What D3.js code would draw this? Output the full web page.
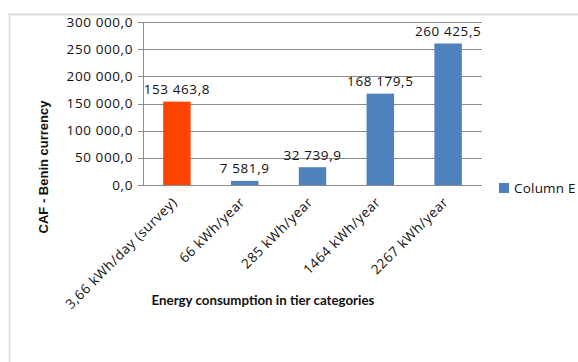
<!DOCTYPE html>
<html>
<head>
<meta charset="utf-8">
<script src="https://cdn.jsdelivr.net/npm/d3@7/dist/d3.min.js"></script>
<style>
  html, body { margin: 0; padding: 0; background: #fff; }
  svg { display: block; }
</style>
</head>
<body>
<svg id="chart" width="578" height="362"></svg>
<script>
// Cost per tier of energy consumption, in CFA francs
const categories = [
  "3,66 kWh/day (survey)",
  "66 kWh/year",
  "285 kWh/year",
  "1464 kWh/year",
  "2267 kWh/year"
];
const values = [153463.8, 7581.9, 32739.9, 168179.5, 260425.5];
const yTicks = [0, 50000, 100000, 150000, 200000, 250000, 300000];
const seriesName = "Column E";
const xTitle = "Energy consumption in tier categories";
const yTitle = "CAF - Benin currency";

const W = 578, H = 362;
const plot = { left: 143, right: 482, top: 22, bottom: 185 };
const blue = "#4f81bd", orange = "#ff4500";
const gridColor = "#8c8c8c";
const labelFont = "'Open Sans', sans-serif";

const svg = d3.select("#chart");

// frame of the embedded chart object
svg.append("line").attr("x1", 8).attr("x2", W).attr("y1", 14.5).attr("y2", 14.5)
  .attr("stroke", "#dcdcdc").attr("stroke-width", 2);
svg.append("line").attr("x1", 9.5).attr("x2", 9.5).attr("y1", 14).attr("y2", H)
  .attr("stroke", "#dcdcdc").attr("stroke-width", 1.5);

const fr = d3.formatLocale({ decimal: ",", thousands: " ", grouping: [3], currency: ["", ""] });
const fmt = fr.format(",.1f");

const x = d3.scaleBand().domain(categories).range([plot.left, plot.right]).padding(0);
const y = d3.scaleLinear().domain([0, 300000]).range([plot.bottom, plot.top]);
const barW = x.bandwidth() * 0.405;

// horizontal gridlines
svg.append("g").selectAll("line").data(yTicks).join("line")
  .attr("x1", plot.left - 5).attr("x2", plot.right)
  .attr("y1", d => Math.round(y(d)) + 0.5).attr("y2", d => Math.round(y(d)) + 0.5)
  .attr("stroke", gridColor).attr("stroke-width", 1);

// vertical axis line
svg.append("line").attr("x1", plot.left + 0.5).attr("x2", plot.left + 0.5)
  .attr("y1", Math.round(y(300000)) + 0.5).attr("y2", Math.round(y(0)) + 0.5)
  .attr("stroke", gridColor);

// y tick labels
svg.append("g").selectAll("text").data(yTicks).join("text")
  .attr("x", plot.left - 10).attr("y", d => y(d) + 4.5)
  .attr("text-anchor", "end")
  .attr("font-family", labelFont).attr("font-size", 13.5)
  .attr("letter-spacing", 0.6)
  .attr("fill", "#111")
  .text(d => fmt(d));

// bars
svg.append("g").selectAll("rect").data(values).join("rect")
  .attr("x", (d, i) => x(categories[i]) + (x.bandwidth() - barW) / 2)
  .attr("y", d => y(d))
  .attr("width", barW)
  .attr("height", d => y(0) - y(d))
  .attr("fill", (d, i) => i === 0 ? orange : blue);

// value labels
svg.append("g").selectAll("text").data(values).join("text")
  .attr("x", (d, i) => x(categories[i]) + x.bandwidth() / 2)
  .attr("y", d => y(d) - 7.5)
  .attr("text-anchor", "middle")
  .attr("font-family", labelFont).attr("font-size", 13.5)
  .attr("letter-spacing", 0.6)
  .attr("fill", "#111")
  .text(d => fmt(d));

// category labels, slanted
svg.append("g").selectAll("text").data(categories).join("text")
  .attr("transform", d => `translate(${x(d) + x.bandwidth() / 2 + 1},${plot.bottom + 18}) rotate(-45)`)
  .attr("text-anchor", "end")
  .attr("font-family", labelFont).attr("font-size", 13.5)
  .attr("letter-spacing", 0.6)
  .attr("fill", "#111")
  .text(d => d);

// axis titles
svg.append("text")
  .attr("x", 263).attr("y", 304.5)
  .attr("text-anchor", "middle")
  .attr("font-family", "Lato, sans-serif").attr("font-weight", "bold").attr("font-size", 13.3)
  .attr("fill", "#111")
  .text(xTitle);

svg.append("text")
  .attr("transform", "translate(48,167) rotate(-90)")
  .attr("text-anchor", "middle")
  .attr("font-family", "'Liberation Sans', Arial, sans-serif").attr("font-weight", "bold").attr("font-size", 13)
  .attr("fill", "#111")
  .text(yTitle);

// legend
const lg = svg.append("g").attr("transform", "translate(499,183)");
lg.append("rect").attr("width", 10).attr("height", 10).attr("fill", blue);
lg.append("text").attr("x", 15).attr("y", 10)
  .attr("font-family", labelFont).attr("font-size", 13.5)
  .attr("letter-spacing", 0.2)
  .attr("fill", "#111")
  .text(seriesName);
</script>
</body>
</html>
